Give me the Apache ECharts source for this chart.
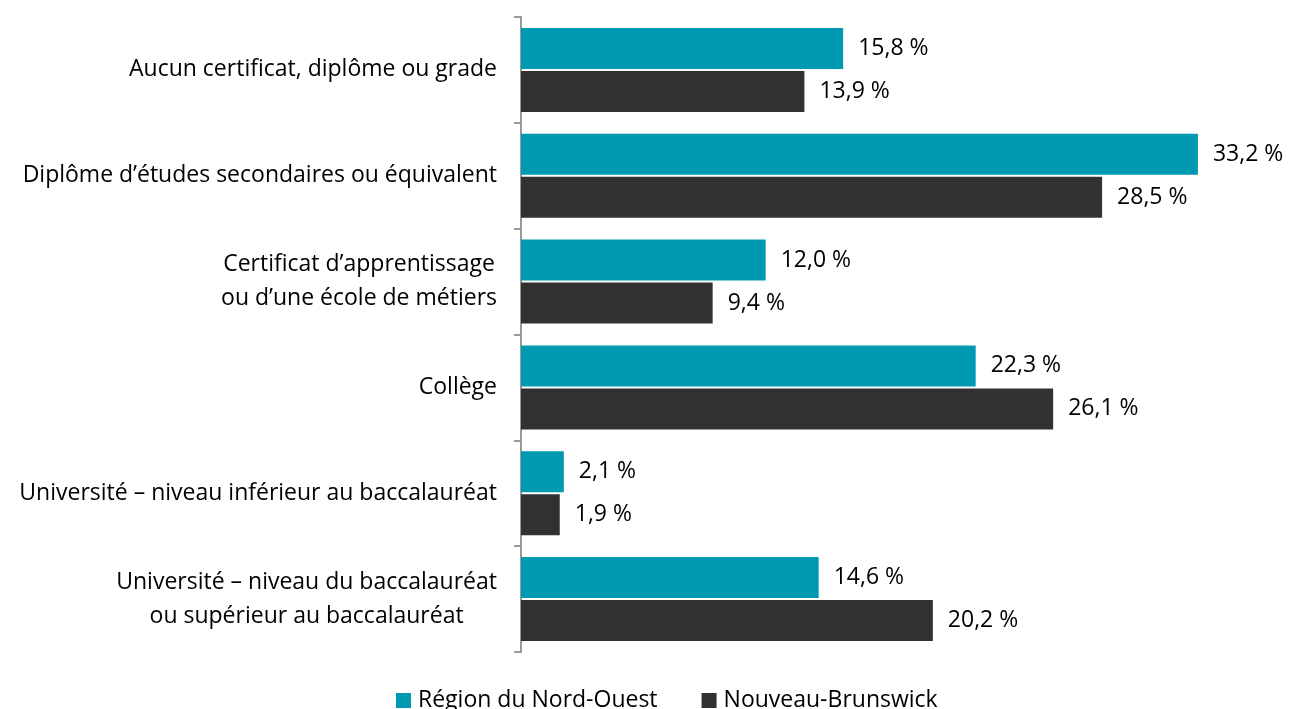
<!DOCTYPE html>
<html>
<head>
<meta charset="utf-8">
<script src="https://cdn.jsdelivr.net/npm/echarts@6/dist/echarts.min.js"></script>
<style>
  html, body { margin: 0; padding: 0; background: #fff; }
  #chart { width: 1291px; height: 709px; }
</style>
</head>
<body>
<div id="chart"></div>
<script>
// catégories (haut vers bas)
const categories = [
  'Aucun certificat, diplôme ou grade',
  'Diplôme d\u2019études secondaires ou équivalent',
  'Certificat d\u2019apprentissage\nou d\u2019une école de métiers',
  'Collège',
  'Université \u2013 niveau inférieur au baccalauréat',
  'Université \u2013 niveau du baccalauréat\nou supérieur au baccalauréat'
];
const seriesNames = ['Région du Nord-Ouest', 'Nouveau-Brunswick'];
const nordOuest = [15.8, 33.2, 12.0, 22.3, 2.1, 14.6];
const nouveauBrunswick = [13.9, 28.5, 9.4, 26.1, 1.9, 20.2];

const FONT = '"Open Sans", sans-serif';
const FS = 23;
const TEAL = '#0099b2';
const DARK = '#323030';

const chart = echarts.init(document.getElementById('chart'));

// étiquette de valeur : virgule décimale + espace avant %
const fmtPct = p => p.value.toFixed(1).replace('.', ',') + ' %';

const makeSeries = (name, data, color) => ({
  name,
  type: 'bar',
  data,
  barWidth: 41,
  barGap: '5%',
  itemStyle: { color },
  label: {
    show: true,
    position: 'right',
    distance: 15,
    formatter: fmtPct,
    fontFamily: FONT,
    fontSize: FS,
    color: '#000'
  }
});

chart.setOption({
  animation: false,
  backgroundColor: '#fff',
  grid: { left: 521, right: 36, top: 17, bottom: 57, containLabel: false },
  legend: {
    data: seriesNames,
    left: 391,
    top: 684,
    itemWidth: 15,
    itemHeight: 15,
    itemGap: 44,
    icon: 'rect',
    textStyle: { fontFamily: FONT, fontSize: FS, color: '#000', padding: [0, 0, 0, 2] }
  },
  xAxis: {
    type: 'value',
    min: 0,
    max: 36,
    show: false
  },
  yAxis: {
    type: 'category',
    data: categories,
    inverse: true,
    axisLine: { show: true, lineStyle: { color: '#999', width: 2 } },
    axisTick: { show: true, length: 7, lineStyle: { color: '#999', width: 2 } },
    axisLabel: {
      margin: 24,
      color: '#000',
      fontFamily: FONT,
      fontSize: FS,
      formatter: v => v.split('\n').map(l => '{c|' + l + '}').join('\n'),
      rich: {
        c: { align: 'center', fontFamily: FONT, fontSize: FS, lineHeight: 34, color: '#000' }
      }
    }
  },
  series: [
    makeSeries(seriesNames[0], nordOuest, TEAL),
    makeSeries(seriesNames[1], nouveauBrunswick, DARK)
  ]
});
</script>
</body>
</html>
